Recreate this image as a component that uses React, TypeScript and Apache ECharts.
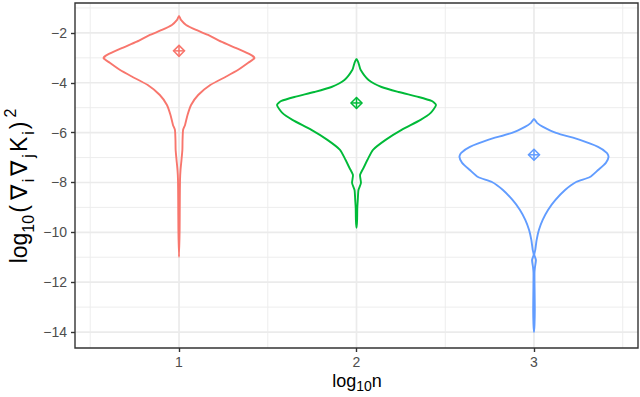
import React, { useEffect, useRef } from "react";
import * as echarts from "echarts";

// ---- data ----
const groups = [1, 2, 3];
const groupColors = ["#F8766D", "#00BA38", "#619CFF"];
const groupMeans = [-2.72, -4.81, -6.89];

const redY = [-1.32, -1.48, -1.68, -1.88, -2.08, -2.35, -2.61, -2.88, -3.01, -3.2, -3.48, -3.75, -4.09, -4.49, -4.89, -5.29, -5.69, -5.89, -6.29, -6.69, -7.09, -7.5, -7.9, -8.7, -9.9, -10.99];
const redW = [0, 0.011, 0.04, 0.096, 0.164, 0.238, 0.323, 0.405, 0.425, 0.39, 0.334, 0.266, 0.176, 0.108, 0.068, 0.048, 0.034, 0.023, 0.02, 0.019, 0.014, 0.0085, 0.0057, 0.0045, 0.0034, 0];

const greenY = [-3.04, -3.2, -3.48, -3.89, -4.17, -4.37, -4.57, -4.73, -4.89, -5.21, -5.49, -5.89, -6.29, -6.69, -7.09, -7.41, -7.7, -8.02, -8.3, -8.7, -9.02, -9.5, -9.82];
const greenW = [0, 0.011, 0.023, 0.068, 0.141, 0.237, 0.35, 0.423, 0.448, 0.418, 0.361, 0.254, 0.164, 0.093, 0.062, 0.04, 0.02, 0.025, 0.011, 0.0073, 0.0045, 0.0034, 0];

const blueY = [-5.45, -5.61, -5.77, -6.01, -6.29, -6.57, -6.81, -6.97, -7.21, -7.5, -7.78, -7.98, -8.3, -8.7, -9.1, -9.5, -9.9, -10.3, -10.7, -10.9, -11.11, -11.39, -11.63, -12.31, -13.11, -13.71, -14.0];
const blueW = [0, 0.017, 0.051, 0.124, 0.259, 0.361, 0.41, 0.42, 0.405, 0.361, 0.315, 0.237, 0.175, 0.121, 0.079, 0.049, 0.028, 0.015, 0.0073, 0.0017, 0.011, 0.0056, 0.0028, 0.0034, 0.0045, 0.0028, 0];

const yTicks = [-14, -12, -10, -8, -6, -4, -2];
const yMinor = [-13, -11, -9, -7, -5, -3, -1];
const xTicks = [1, 2, 3];
const xMinor = [0.5, 1.5, 2.5, 3.5];

const X_MIN = 0.414;
const X_MAX = 3.586;
const Y_MIN = -14.64;
const Y_MAX = -0.8;

const violinY = [redY, greenY, blueY];
const violinW = [redW, greenW, blueW];

const FONT = "'Liberation Sans', Arial, Helvetica, sans-serif";

export default function App() {
  const ref = useRef<HTMLDivElement>(null);

  useEffect(() => {
    if (!ref.current) return;
    const chart = echarts.init(ref.current, null, { renderer: "svg" });

    // gridline items: [value, kind] kind 0 = y major, 1 = y minor, 2 = x major, 3 = x minor
    const gridItems: number[][] = [
      ...yMinor.map((v) => [v, 1]),
      ...xMinor.map((v) => [v, 3]),
      ...yTicks.map((v) => [v, 0]),
      ...xTicks.map((v) => [v, 2]),
    ];

    const rich = {
      m: { fontSize: 18, lineHeight: 24, verticalAlign: "middle", fontFamily: FONT },
      s: { fontSize: 14, lineHeight: 13, verticalAlign: "bottom", fontFamily: FONT },
    };
    const richY = {
      m: { fontSize: 23, lineHeight: 34, verticalAlign: "middle", fontFamily: FONT },
      n: { fontSize: 23, lineHeight: 34, verticalAlign: "middle", fontFamily: FONT, padding: [0, 3, 0, 3] },
      b: { fontSize: 23, lineHeight: 34, verticalAlign: "middle", fontFamily: FONT, padding: [0, 2, 0, 2] },
      s: { fontSize: 16, lineHeight: 16, verticalAlign: "bottom", fontFamily: FONT },
      p: { fontSize: 16, lineHeight: 16, verticalAlign: "top", fontFamily: FONT, padding: [0, 0, 0, 2] },
    };

    const option: any = {
      animation: false,
      backgroundColor: "#ffffff",
      grid: {
        left: 75,
        right: 2,
        top: 3,
        bottom: 49,
        containLabel: false,
        outerBoundsMode: "none",
        show: true,
        backgroundColor: "transparent",
        borderColor: "#333333",
        borderWidth: 1.4,
        z: 5,
      },
      xAxis: {
        type: "value",
        min: X_MIN,
        max: X_MAX,
        axisLine: { show: false },
        splitLine: { show: false },
        axisTick: {
          show: true,
          customValues: xTicks,
          length: 4,
          lineStyle: { color: "#333333", width: 1.4 },
        },
        axisLabel: {
          show: true,
          customValues: xTicks,
          color: "#4D4D4D",
          fontSize: 14,
          fontFamily: FONT,
          margin: 7,
        },
      },
      yAxis: {
        type: "value",
        min: Y_MIN,
        max: Y_MAX,
        axisLine: { show: false },
        splitLine: { show: false },
        axisTick: {
          show: true,
          customValues: yTicks,
          length: 4,
          lineStyle: { color: "#333333", width: 1.4 },
        },
        axisLabel: {
          show: true,
          customValues: yTicks,
          color: "#4D4D4D",
          fontSize: 14,
          fontFamily: FONT,
          margin: 8,
          formatter: (v: number) => String(v).replace("-", "\u2212"),
        },
      },
      graphic: [
        {
          type: "text",
          x: 19,
          y: 186,
          rotation: Math.PI / 2,
          style: {
            text: "{m|log}{s|10}{b|(}{n|\u2207}{s|i}{n|\u2207}{s|j}{b|K}{s|i}{b|)}{p|2}",
            rich: richY,
            fill: "#000000",
            align: "center",
            verticalAlign: "middle",
            textAlign: "center",
            textVerticalAlign: "middle",
          },
        },
        {
          type: "text",
          x: 357,
          y: 381,
          style: {
            text: "{m|log}{s|10}{m|n}",
            rich: rich,
            fill: "#000000",
            align: "center",
            verticalAlign: "middle",
            textAlign: "center",
            textVerticalAlign: "middle",
          },
        },
      ],
      series: [
        {
          type: "custom",
          name: "grid",
          silent: true,
          z: 1,
          data: gridItems,
          renderItem: (params: any, api: any) => {
            const cs = params.coordSys;
            const v = api.value(0);
            const kind = api.value(1);
            const lw = kind === 0 || kind === 2 ? 1.7 : 0.9;
            if (kind < 2) {
              const p = api.coord([X_MIN, v]);
              return {
                type: "line",
                shape: { x1: cs.x, y1: p[1], x2: cs.x + cs.width, y2: p[1] },
                style: { stroke: "#EBEBEB", lineWidth: lw },
              };
            }
            const p = api.coord([v, Y_MIN]);
            return {
              type: "line",
              shape: { x1: p[0], y1: cs.y, x2: p[0], y2: cs.y + cs.height },
              style: { stroke: "#EBEBEB", lineWidth: lw },
            };
          },
        },
        {
          type: "custom",
          name: "violins",
          silent: true,
          z: 3,
          data: groups.map((g, i) => [g, groupMeans[i]]),
          renderItem: (params: any, api: any) => {
            const i = params.dataIndex;
            const xc = api.value(0);
            const ys = violinY[i];
            const ws = violinW[i];
            const color = groupColors[i];
            const left = ys.map((y, k) => api.coord([xc - ws[k], y]));
            const right = ys
              .map((y, k) => api.coord([xc + ws[k], y]))
              .slice(1, ys.length - 1)
              .reverse();
            const pts = left.concat(right);
            const m = api.coord([xc, api.value(1)]);
            const r = 5.5;
            return {
              type: "group",
              children: [
                {
                  type: "polygon",
                  shape: { points: pts, smooth: 0.2 },
                  style: { fill: "none", stroke: color, lineWidth: 1.9, lineJoin: "round" },
                },
                {
                  type: "polygon",
                  shape: {
                    points: [
                      [m[0], m[1] - r],
                      [m[0] + r, m[1]],
                      [m[0], m[1] + r],
                      [m[0] - r, m[1]],
                    ],
                  },
                  style: { fill: "none", stroke: color, lineWidth: 1.5 },
                },
                {
                  type: "line",
                  shape: { x1: m[0] - r, y1: m[1], x2: m[0] + r, y2: m[1] },
                  style: { stroke: color, lineWidth: 1.5 },
                },
                {
                  type: "line",
                  shape: { x1: m[0], y1: m[1] - r, x2: m[0], y2: m[1] + r },
                  style: { stroke: color, lineWidth: 1.5 },
                },
              ],
            };
          },
        },
      ],
    };

    chart.setOption(option);
    return () => {
      chart.dispose();
    };
  }, []);

  return (
    <div
      ref={ref}
      style={{
        position: "fixed",
        left: 0,
        top: 0,
        width: 640,
        height: 397,
        background: "#ffffff",
      }}
    />
  );
}
